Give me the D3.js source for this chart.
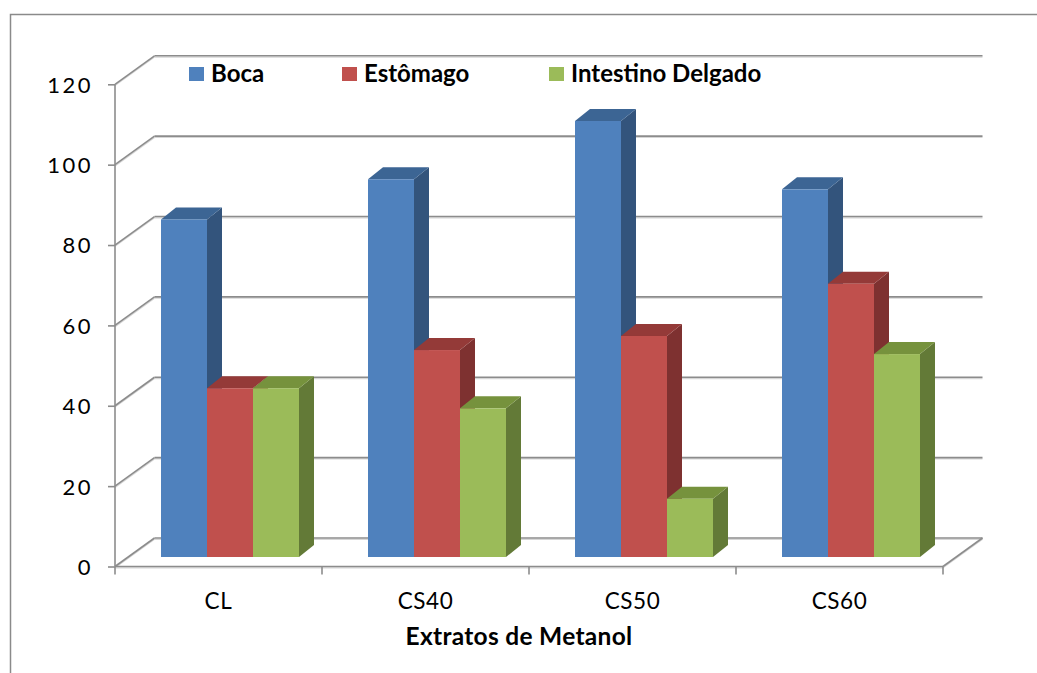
<!DOCTYPE html>
<html>
<head>
<meta charset="utf-8">
<script src="https://cdn.jsdelivr.net/npm/d3@7"></script>
<style>
  html, body { margin: 0; padding: 0; background: #ffffff; }
  svg { display: block; }
  text { font-family: Lato, "Open Sans", sans-serif; fill: #000; }
</style>
</head>
<body>
<svg id="chart" width="1037" height="673"></svg>
<script>
// Categories, series and their values
const categories = ["CL", "CS40", "CS50", "CS60"];
const seriesNames = ["Boca", "Estômago", "Intestino Delgado"];
const boca = [84, 94, 108.5, 91.5];
const estomago = [42, 51.5, 55, 68];
const intestino = [42, 37, 14.5, 50.5];
const yTicks = [0, 20, 40, 60, 80, 100, 120];
const xTitle = "Extratos de Metanol";

const seriesValues = [boca, estomago, intestino];
const front = ["#4f81bd", "#c0504d", "#9bbb59"];
const topC  = ["#3c6594", "#943a38", "#76923d"];
const sideC = ["#33547c", "#7e3130", "#637a37"];

const svg = d3.select("#chart");

// outer frame
svg.append("rect")
  .attr("x", 10.5).attr("y", 14.5)
  .attr("width", 1100).attr("height", 700)
  .attr("fill", "none").attr("stroke", "#8a8a8a").attr("stroke-width", 1.5);

// scales
const y = d3.scaleLinear().domain([0, 120]).range([566.5, 84.3]);
const x0 = d3.scaleBand().domain(categories).range([115, 943]);
const x1 = d3.scaleBand().domain(seriesNames).range([0, x0.bandwidth()]).paddingOuter(0.75);

// oblique depth of the wall and of the bars
const wall = { dx: 39.5, dy: -28.5 };
const barFront = { dx: 11.5, dy: -9.5 };
const barDepth = { dx: 15, dy: -12 };

const gridColor = "#8c8c8c";
const grid = svg.append("g");

function gline(x1p, y1p, x2p, y2p) {
  grid.append("line")
    .attr("x1", x1p).attr("y1", y1p + 1.3).attr("x2", x2p).attr("y2", y2p + 1.3)
    .attr("stroke", "#d6d6d6").attr("stroke-width", 1.2);
  grid.append("line")
    .attr("x1", x1p).attr("y1", y1p).attr("x2", x2p).attr("y2", y2p)
    .attr("stroke", gridColor).attr("stroke-width", 1.6);
}

const xl = x0.range()[0], xr = x0.range()[1];
// back wall gridlines and side wall diagonals
yTicks.forEach(t => {
  const yy = y(t);
  gline(xl + wall.dx, yy + wall.dy, xr + wall.dx, yy + wall.dy);
  gline(xl, yy, xl + wall.dx, yy + wall.dy);
});
// floor front edge and right diagonal
gline(xl, y(0), xr, y(0));
gline(xr, y(0), xr + wall.dx, y(0) + wall.dy);

// category boundary ticks
const bounds = categories.map(c => x0(c)).concat([xr]);
bounds.forEach(b => {
  grid.append("line")
    .attr("x1", b).attr("x2", b).attr("y1", y(0)).attr("y2", y(0) + 8)
    .attr("stroke", gridColor).attr("stroke-width", 1.6);
});

// value axis
const yAxis = svg.append("g")
  .attr("transform", `translate(${xl},0)`)
  .call(d3.axisLeft(y).tickValues(yTicks).tickSize(7).tickPadding(15));
yAxis.selectAll("path, line").attr("stroke", gridColor).attr("stroke-width", 1.6);
yAxis.select(".domain").attr("d", `M-0,${y(120)}V${y(0)}`);
yAxis.selectAll("text")
  .attr("dy", "0.36em")
  .style("font-family", "Lato, sans-serif").style("font-size", "22px")
  .style("letter-spacing", "2.5px").attr("fill", "#000");

// category axis labels
const xAxis = svg.append("g")
  .attr("transform", `translate(0,${y(0)})`)
  .call(d3.axisBottom(x0).tickSize(0).tickPadding(27));
xAxis.select(".domain").remove();
xAxis.selectAll("text")
  .style("font-family", "Lato, sans-serif").style("font-size", "22.5px")
  .style("letter-spacing", "0.6px").attr("fill", "#000");

// axis title
svg.append("text")
  .attr("x", 519).attr("y", 645)
  .attr("text-anchor", "middle")
  .style("font-size", "24.5px").style("font-weight", "bold")
  .style("letter-spacing", "0.3px")
  .text(xTitle);

// 3-D columns
const bars = svg.append("g");
categories.forEach((c, ci) => {
  seriesNames.forEach((s, si) => {
    const v = seriesValues[si][ci];
    const xa = x0(c) + x1(s) + barFront.dx;
    const xb = xa + x1.bandwidth();
    const yb = y(0) + barFront.dy;
    const yt = y(v) + barFront.dy;
    const dx = barDepth.dx, dy = barDepth.dy;
    const g = bars.append("g");
    // right side
    g.append("path")
      .attr("d", `M${xb},${yt}L${xb + dx},${yt + dy}L${xb + dx},${yb + dy}L${xb},${yb}Z`)
      .attr("fill", sideC[si]);
    // top
    g.append("path")
      .attr("d", `M${xa},${yt}L${xa + dx},${yt + dy}L${xb + dx},${yt + dy}L${xb},${yt}Z`)
      .attr("fill", topC[si]);
    // front
    g.append("rect")
      .attr("x", xa).attr("y", yt)
      .attr("width", x1.bandwidth()).attr("height", yb - yt)
      .attr("fill", front[si]);
  });
});

// legend
const legendX = [189, 342, 549];
const legend = svg.append("g");
seriesNames.forEach((s, i) => {
  legend.append("rect")
    .attr("x", legendX[i]).attr("y", 67)
    .attr("width", 15).attr("height", 14)
    .attr("fill", front[i]);
  legend.append("text")
    .attr("x", legendX[i] + 22).attr("y", 82)
    .style("font-size", "24px").style("font-weight", "bold")
    .text(s);
});
</script>
</body>
</html>
